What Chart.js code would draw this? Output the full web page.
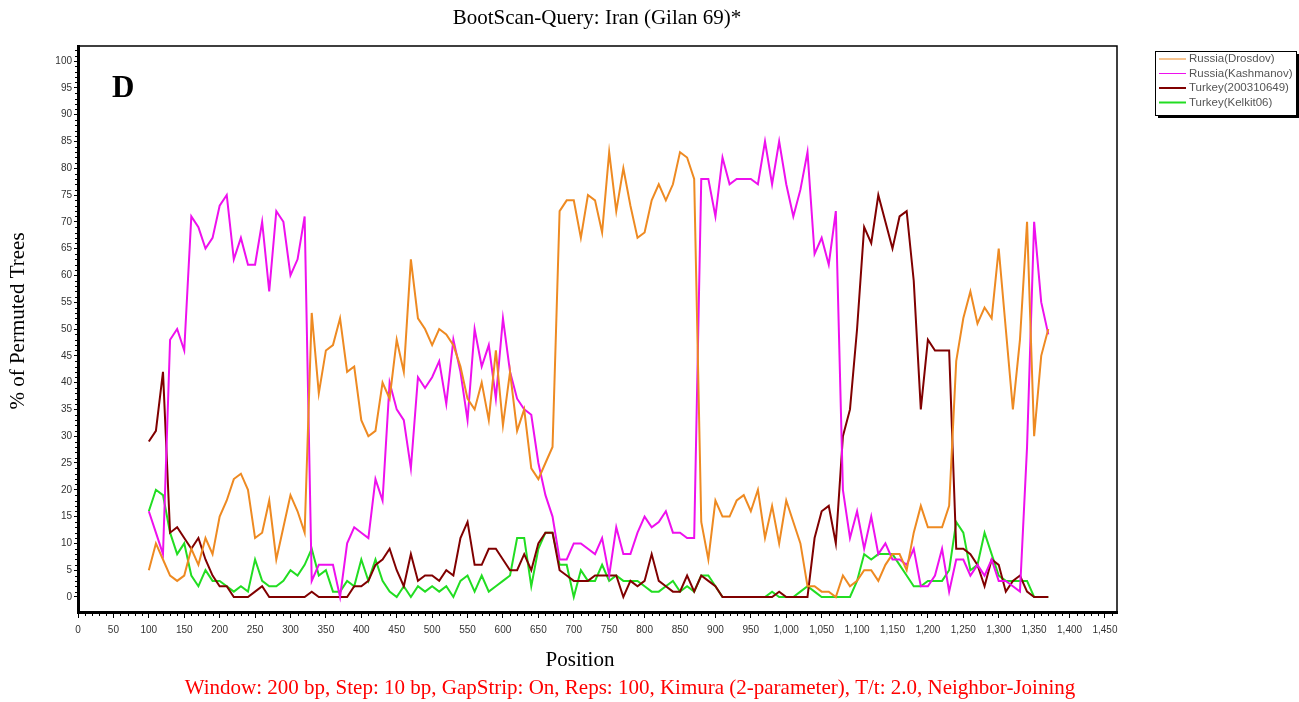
<!DOCTYPE html>
<html>
<head>
<meta charset="utf-8">
<script src="https://cdn.jsdelivr.net/npm/chart.js@4.4.1/dist/chart.umd.min.js"></script>
<style>
  html, body { margin: 0; padding: 0; background: #fff; }
</style>
</head>
<body>
<canvas id="bootscan" width="1299" height="702"></canvas>
<script>
// window start positions (bp)
var positions = [
  100, 110, 120, 130, 140, 150, 160, 170, 180, 190,
  200, 210, 220, 230, 240, 250, 260, 270, 280, 290,
  300, 310, 320, 330, 340, 350, 360, 370, 380, 390,
  400, 410, 420, 430, 440, 450, 460, 470, 480, 490,
  500, 510, 520, 530, 540, 550, 560, 570, 580, 590,
  600, 610, 620, 630, 640, 650, 660, 670, 680, 690,
  700, 710, 720, 730, 740, 750, 760, 770, 780, 790,
  800, 810, 820, 830, 840, 850, 860, 870, 880, 890,
  900, 910, 920, 930, 940, 950, 960, 970, 980, 990,
  1000, 1010, 1020, 1030, 1040, 1050, 1060, 1070, 1080, 1090,
  1100, 1110, 1120, 1130, 1140, 1150, 1160, 1170, 1180, 1190,
  1200, 1210, 1220, 1230, 1240, 1250, 1260, 1270, 1280, 1290,
  1300, 1310, 1320, 1330, 1340, 1350, 1360, 1370
];

var drosdov = [
  5, 10, 7, 4, 3, 4, 9, 6, 11, 8,
  15, 18, 22, 23, 20, 11, 12, 18, 7, 13,
  19, 16, 12, 53, 38, 46, 47, 52, 42, 43,
  33, 30, 31, 40, 37, 48, 42, 63, 52, 50,
  47, 50, 49, 47, 43, 37, 35, 40, 33, 46,
  32, 42, 31, 35, 24, 22, 25, 28, 72, 74,
  74, 67, 75, 74, 68, 83, 72, 80, 73, 67,
  68, 74, 77, 74, 77, 83, 82, 78, 14, 7,
  18, 15, 15, 18, 19, 16, 20, 11, 17, 10,
  18, 14, 10, 2, 2, 1, 1, 0, 4, 2,
  3, 5, 5, 3, 6, 8, 8, 5, 12, 17,
  13, 13, 13, 17, 44, 52, 57, 51, 54, 52,
  65, 50, 35, 48, 70, 30, 45, 50
];

var kashmanov = [
  16, 12, 8, 48, 50, 46, 71, 69, 65, 67,
  73, 75, 63, 67, 62, 62, 70, 57, 72, 70,
  60, 63, 71, 3, 6, 6, 6, 0, 10, 13,
  12, 11, 22, 18, 40, 35, 33, 24, 41, 39,
  41, 44, 36, 48, 42, 33, 50, 43, 47, 37,
  52, 42, 37, 35, 34, 25, 19, 15, 7, 7,
  10, 10, 9, 8, 11, 4, 13, 8, 8, 12,
  15, 13, 14, 16, 12, 12, 11, 11, 78, 78,
  71, 82, 77, 78, 78, 78, 77, 85, 77, 85,
  77, 71, 76, 83, 64, 67, 62, 72, 20, 11,
  16, 9, 15, 8, 10, 7, 7, 6, 9, 2,
  2, 4, 9, 1, 7, 7, 4, 6, 4, 7,
  3, 3, 2, 1, 28, 70, 55, 49
];

var turkey2003 = [
  29, 31, 42, 12, 13, 11, 9, 11, 7, 4,
  2, 2, 0, 0, 0, 1, 2, 0, 0, 0,
  0, 0, 0, 1, 0, 0, 0, 0, 0, 2,
  2, 3, 6, 7, 9, 5, 2, 8, 3, 4,
  4, 3, 5, 4, 11, 14, 6, 6, 9, 9,
  7, 5, 5, 8, 5, 10, 12, 12, 5, 4,
  3, 3, 3, 4, 4, 4, 4, 0, 3, 2,
  3, 8, 3, 2, 1, 1, 4, 1, 4, 3,
  2, 0, 0, 0, 0, 0, 0, 0, 0, 1,
  0, 0, 0, 0, 11, 16, 17, 10, 30, 35,
  50, 69, 66, 75, 70, 65, 71, 72, 59, 35,
  48, 46, 46, 46, 9, 9, 8, 6, 2, 7,
  6, 1, 3, 4, 1, 0, 0, 0
];

var kelkit = [
  16, 20, 19, 12, 8, 10, 4, 2, 5, 3,
  3, 2, 1, 2, 1, 7, 3, 2, 2, 3,
  5, 4, 6, 9, 4, 5, 1, 1, 3, 2,
  7, 3, 7, 3, 1, 0, 2, 0, 2, 1,
  2, 1, 2, 0, 3, 4, 1, 4, 1, 2,
  3, 4, 11, 11, 2, 9, 12, 12, 6, 6,
  0, 5, 3, 3, 6, 3, 4, 3, 3, 3,
  2, 1, 1, 2, 3, 1, 2, 1, 4, 4,
  2, 0, 0, 0, 0, 0, 0, 0, 1, 0,
  0, 0, 1, 2, 1, 0, 0, 0, 0, 0,
  3, 8, 7, 8, 8, 8, 6, 4, 2, 2,
  3, 3, 3, 5, 14, 12, 5, 6, 12, 8,
  4, 3, 3, 3, 3, 0, 0, 0
];

var seriesNames = ['Russia(Drosdov)', 'Russia(Kashmanov)', 'Turkey(200310649)', 'Turkey(Kelkit06)'];
var seriesColors = ['#EE8A22', '#EE10EE', '#800000', '#22DD22'];

var xTickValues = [0, 50, 100, 150, 200, 250, 300, 350, 400, 450, 500, 550, 600, 650, 700,
  750, 800, 850, 900, 950, 1000, 1050, 1100, 1150, 1200, 1250, 1300, 1350, 1400, 1450];
var yTickValues = [0, 5, 10, 15, 20, 25, 30, 35, 40, 45, 50, 55, 60, 65, 70, 75, 80, 85, 90, 95, 100];

function pairs(values) {
  return values.map(function (v, i) { return { x: positions[i], y: v }; });
}

var allSeries = [drosdov, kashmanov, turkey2003, kelkit];
var datasets = allSeries.map(function (vals, i) {
  return {
    label: seriesNames[i],
    data: pairs(vals),
    borderColor: seriesColors[i],
    backgroundColor: seriesColors[i],
    borderWidth: 2,
    pointRadius: 0,
    tension: 0,
    fill: false
  };
});

var serif = '"Liberation Serif", "Times New Roman", serif';
var sans = '"Liberation Sans", Arial, sans-serif';

// texts, frame, minor ticks and the boxed legend
var decor = {
  id: 'decor',
  afterDraw: function (chart) {
    var ctx = chart.ctx, a = chart.chartArea;
    var xs = chart.scales.x, ys = chart.scales.y;
    ctx.save();

    ctx.strokeStyle = '#000';
    ctx.lineWidth = 1.5;
    ctx.beginPath();
    ctx.moveTo(a.left, a.top);
    ctx.lineTo(a.right, a.top);
    ctx.lineTo(a.right, a.bottom);
    ctx.stroke();

    // minor ticks
    ctx.lineWidth = 1;
    ctx.beginPath();
    for (var v = 10; v <= 1460; v += 10) {
      if (v % 50 === 0) continue;
      var px = Math.round(xs.getPixelForValue(v)) + 0.5;
      ctx.moveTo(px, a.bottom + 1);
      ctx.lineTo(px, a.bottom + 4);
    }
    for (var w = 1; w <= 102; w += 1) {
      if (w % 5 === 0) continue;
      var py = Math.round(ys.getPixelForValue(w)) + 0.5;
      ctx.moveTo(a.left - 1, py);
      ctx.lineTo(a.left - 3, py);
    }
    ctx.stroke();

    ctx.fillStyle = '#000';
    ctx.textAlign = 'center';
    ctx.textBaseline = 'middle';
    ctx.font = '21px ' + serif;
    ctx.fillText('BootScan-Query: Iran (Gilan 69)*', 597, 18);

    ctx.fillText('Position', 580, 660);

    ctx.fillStyle = '#FF0000';
    ctx.fillText('Window: 200 bp, Step: 10 bp, GapStrip: On, Reps: 100, Kimura (2-parameter), T/t: 2.0, Neighbor-Joining', 630, 688);

    ctx.fillStyle = '#000';
    ctx.save();
    ctx.translate(18, 321);
    ctx.rotate(-Math.PI / 2);
    ctx.fillText('% of Permuted Trees', 0, 0);
    ctx.restore();

    ctx.textAlign = 'left';
    ctx.font = 'bold 31px ' + serif;
    ctx.fillText('D', 112, 89);

    // legend box
    var lx = 1155, ly = 51, lw = 141, lh = 64;
    ctx.fillStyle = '#000';
    ctx.fillRect(lx + 3, ly + 3, lw, lh);
    ctx.fillStyle = '#fff';
    ctx.fillRect(lx, ly, lw, lh);
    ctx.strokeStyle = '#000';
    ctx.lineWidth = 1;
    ctx.strokeRect(lx + 0.5, ly + 0.5, lw, lh);
    ctx.font = '11.5px ' + sans;
    ctx.textBaseline = 'middle';
    chart.data.datasets.forEach(function (ds, i) {
      var yy = 59 + i * 14.5;
      ctx.strokeStyle = ds.borderColor;
      ctx.lineWidth = i < 2 ? 1 : 2;
      ctx.beginPath();
      ctx.moveTo(1159, yy);
      ctx.lineTo(1186, yy);
      ctx.stroke();
      ctx.fillStyle = '#555';
      ctx.fillText(ds.label, 1189, yy);
    });
    ctx.restore();
  }
};

var ctx = document.getElementById('bootscan').getContext('2d');
var chart = new Chart(ctx, {
  type: 'line',
  data: { datasets: datasets },
  options: {
    responsive: false,
    animation: false,
    layout: { padding: { left: 0, right: 182, top: 46, bottom: 0 } },
    plugins: {
      legend: { display: false },
      tooltip: { enabled: false }
    },
    scales: {
      x: {
        type: 'linear',
        min: 0,
        max: 1467,
        afterBuildTicks: function (s) { s.ticks = xTickValues.map(function (v) { return { value: v }; }); },
        afterFit: function (s) { s.height = 90; },
        ticks: {
          autoSkip: false,
          maxRotation: 0,
          padding: 6,
          color: '#333',
          font: { family: sans, size: 10 },
          callback: function (v) { return Number(v).toLocaleString('en-US'); }
        },
        grid: { drawOnChartArea: false, tickLength: 6, tickColor: '#000' },
        border: { color: '#000', width: 3 }
      },
      y: {
        type: 'linear',
        min: -2.8,
        max: 102.8,
        afterBuildTicks: function (s) { s.ticks = yTickValues.map(function (v) { return { value: v }; }); },
        afterFit: function (s) { s.width = 78; },
        ticks: {
          padding: 2,
          color: '#333',
          font: { family: sans, size: 10 }
        },
        grid: { drawOnChartArea: false, tickLength: 4, tickColor: '#000' },
        border: { color: '#000', width: 3 }
      }
    }
  },
  plugins: [decor]
});
</script>
</body>
</html>
